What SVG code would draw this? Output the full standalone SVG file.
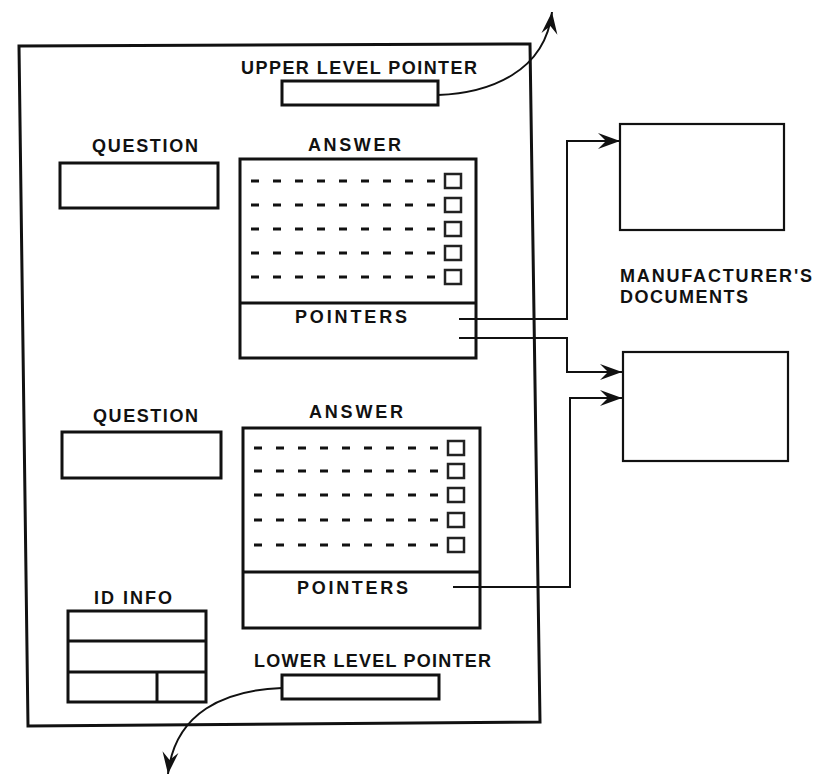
<svg xmlns="http://www.w3.org/2000/svg" width="816" height="779" viewBox="0 0 816 779">
<defs>
<style>
.lbl{font-family:"Liberation Sans",Arial,sans-serif;font-weight:bold;font-size:18px;fill:#111}
.box{fill:none;stroke:#111;stroke-width:3}
.thin{fill:none;stroke:#111;stroke-width:2.2}
.dash{stroke:#111;stroke-width:3;stroke-dasharray:8 14}
.sq{fill:#fff;stroke:#222;stroke-width:2.5}
.con{fill:none;stroke:#111;stroke-width:2}
</style>
<marker id="ah" markerUnits="userSpaceOnUse" markerWidth="24" markerHeight="18" refX="22" refY="9" orient="auto">
<path d="M22,9 L0,1 L8,9 L0,17 Z" fill="#111"/>
</marker>
</defs>
<rect width="816" height="779" fill="#fff"/>

<g id="frame">
<polygon class="box" points="19,46 530,44 540,722 28,726"/>
</g>

<g id="upper-level-pointer">
<text class="lbl" x="241" y="74" textLength="236" lengthAdjust="spacing">UPPER LEVEL POINTER</text>
<rect class="box" x="282" y="81" width="156" height="24"/>
</g>

<g id="question-1">
<text class="lbl" x="92" y="152" textLength="106" lengthAdjust="spacing">QUESTION</text>
<rect class="box" x="60" y="163" width="158" height="45"/>
</g>

<g id="answer-1">
<text class="lbl" x="308" y="151" textLength="93" lengthAdjust="spacing">ANSWER</text>
<rect class="box" x="240" y="159" width="236" height="199"/>
<line class="box" x1="240" y1="303" x2="476" y2="303"/>
<line class="dash" x1="251" y1="181" x2="441" y2="181"/>
<line class="dash" x1="251" y1="205" x2="441" y2="205"/>
<line class="dash" x1="251" y1="229" x2="441" y2="229"/>
<line class="dash" x1="251" y1="253" x2="441" y2="253"/>
<line class="dash" x1="251" y1="277" x2="441" y2="277"/>
<rect class="sq" x="445" y="174" width="16" height="14"/>
<rect class="sq" x="445" y="198" width="16" height="14"/>
<rect class="sq" x="445" y="222" width="16" height="14"/>
<rect class="sq" x="445" y="246" width="16" height="14"/>
<rect class="sq" x="445" y="270" width="16" height="14"/>
<text class="lbl" x="295" y="323" textLength="112" lengthAdjust="spacing">POINTERS</text>
</g>

<g id="question-2">
<text class="lbl" x="93" y="422" textLength="105" lengthAdjust="spacing">QUESTION</text>
<rect class="box" x="62" y="432" width="159" height="46"/>
</g>

<g id="answer-2">
<text class="lbl" x="309" y="418" textLength="94" lengthAdjust="spacing">ANSWER</text>
<rect class="box" x="243" y="428" width="237" height="200"/>
<line class="box" x1="243" y1="572" x2="480" y2="572"/>
<line class="dash" x1="254" y1="448" x2="444" y2="448"/>
<line class="dash" x1="254" y1="471" x2="444" y2="471"/>
<line class="dash" x1="254" y1="495" x2="444" y2="495"/>
<line class="dash" x1="254" y1="520" x2="444" y2="520"/>
<line class="dash" x1="254" y1="545" x2="444" y2="545"/>
<rect class="sq" x="448" y="441" width="16" height="14"/>
<rect class="sq" x="448" y="464" width="16" height="14"/>
<rect class="sq" x="448" y="488" width="16" height="14"/>
<rect class="sq" x="448" y="513" width="16" height="14"/>
<rect class="sq" x="448" y="538" width="16" height="14"/>
<text class="lbl" x="297" y="594" textLength="111" lengthAdjust="spacing">POINTERS</text>
</g>

<g id="id-info">
<text class="lbl" x="94" y="604" textLength="78" lengthAdjust="spacing">ID INFO</text>
<rect class="box" x="68" y="611" width="138" height="91"/>
<line class="box" x1="68" y1="641" x2="206" y2="641"/>
<line class="box" x1="68" y1="672" x2="206" y2="672"/>
<line class="box" x1="157" y1="672" x2="157" y2="702"/>
</g>

<g id="lower-level-pointer">
<text class="lbl" x="254" y="667" textLength="237" lengthAdjust="spacing">LOWER LEVEL POINTER</text>
<rect class="box" x="282" y="675" width="157" height="24"/>
</g>

<g id="doc-1">
<rect class="thin" x="620" y="124" width="164" height="106"/>
</g>
<g id="doc-2">
<rect class="thin" x="623" y="352" width="165" height="109"/>
</g>
<g id="doc-label">
<text class="lbl" x="620" y="282" textLength="192" lengthAdjust="spacing">MANUFACTURER'S</text>
<text class="lbl" x="620" y="303" textLength="128" lengthAdjust="spacing">DOCUMENTS</text>
</g>

<g id="connectors">
<path class="con" d="M438,95 C490,93 545,72 552,12" marker-end="url(#ah)"/>
<path class="con" d="M282,688 C225,690 175,712 168,774" marker-end="url(#ah)"/>
<path class="con" d="M459,319 H567 V141 H620" marker-end="url(#ah)"/>
<path class="con" d="M459,338 H567 V372 H622" marker-end="url(#ah)"/>
<path class="con" d="M453,587 H570 V398 H622" marker-end="url(#ah)"/>
</g>
</svg>
